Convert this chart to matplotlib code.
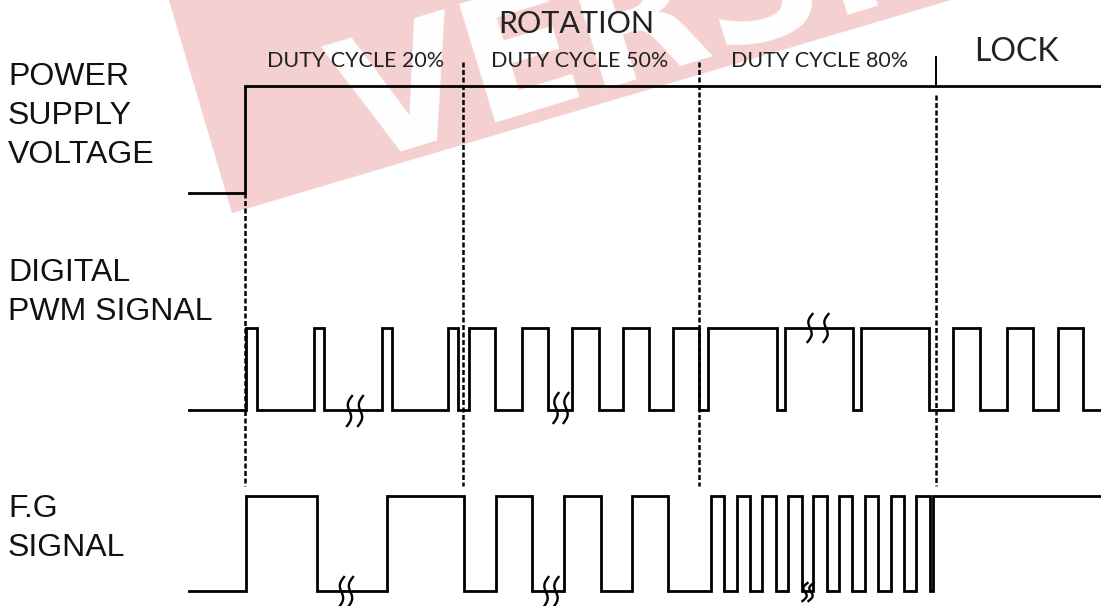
import numpy as np
import matplotlib as mpl
mpl.use('Agg')
import matplotlib.pyplot as plt
from matplotlib.patches import Polygon

# time axis is in drawing units (left to right), levels are row baselines
x_start = 189
x_end = 1101

# power supply: low, then steps up and stays on
power_edges = [245]
power_rows = (193, 86)      # (low, high)

# digital PWM signal, toggle times starting from low
pwm_edges = [246, 257, 314, 324, 382, 392, 448, 458, 469, 495, 522, 548,
             572, 599, 623, 649, 673, 699, 708, 777, 785, 853, 861, 929,
             953, 980, 1007, 1033, 1058, 1083]
pwm_rows = (410, 328)

# F.G signal, toggle times starting from low
fg_edges = [246, 317, 387, 464, 496, 532, 564, 601, 632, 668, 711, 724,
            737, 750, 762, 776, 788, 802, 813, 827, 839, 852, 865, 878,
            891, 904, 916, 930, 933]
fg_rows = (591, 496)

# section borders (dashed) and where each one starts
borders = [245, 463, 699, 936]
border_top = [193, 62, 62, 95]
border_bottom = 486

# "time break" squiggles: centre x, centre y, height, gap between the pair
squig_x = [355, 561, 818, 346, 551, 808]
squig_y = [411, 408, 328, 592, 592, 592]
squig_h = [30, 30, 28, 30, 30, 18]
squig_gap = [11, 10, 16, 9, 10, 6]

row_labels = [('POWER', 77), ('SUPPLY', 116), ('VOLTAGE', 155),
              ('DIGITAL', 273), ('PWM SIGNAL', 312),
              ('F.G', 509), ('SIGNAL', 548)]
section_labels = ['DUTY CYCLE 20%', 'DUTY CYCLE 50%', 'DUTY CYCLE 80%']
section_x = [356, 580, 820]


def step_wave(edges, rows, start_high=False):
    xs = [x_start]
    lvl = 1 if start_high else 0
    ys = [rows[lvl]]
    for e in edges:
        xs += [e, e]
        ys += [rows[lvl], rows[1 - lvl]]
        lvl = 1 - lvl
    xs.append(x_end)
    ys.append(rows[lvl])
    return xs, ys


fig = plt.figure(figsize=(11.01, 6.06), dpi=100)
ax = fig.add_axes([0, 0, 1, 1])
ax.set_xlim(0, 1101)
ax.set_ylim(606, 0)
ax.axis('off')

# watermark band
th = np.deg2rad(16.5)
along = np.array([np.cos(th), -np.sin(th)])
up = np.array([-np.sin(th), -np.cos(th)])
p0 = np.array([232, 213])
band = [p0, p0 + 1200 * along, p0 + 1200 * along + 500 * up, p0 + 500 * up]
ax.add_patch(Polygon(band, closed=True, color='#f5d0d0', lw=0, zorder=0))
ax.text(356, 165, 'VERSION', rotation=17, rotation_mode='anchor',
        ha='left', va='baseline', fontsize=122, fontweight='bold',
        family='DejaVu Sans', color='white', zorder=1, clip_on=True)

lw = 2.0
for edges, rows in [(power_edges, power_rows), (pwm_edges, pwm_rows),
                    (fg_edges, fg_rows)]:
    xs, ys = step_wave(edges, rows)
    ax.plot(xs, ys, color='black', lw=lw, solid_joinstyle='miter', zorder=3)

for bx, bt in zip(borders, border_top):
    ax.plot([bx, bx], [bt, border_bottom], color='black', lw=1.8,
            linestyle=(0, (2, 1)), zorder=2)
# the solid tick before LOCK
ax.plot([borders[-1], borders[-1]], [57, power_rows[1]], color='black',
        lw=1.4, zorder=3)

s = np.linspace(0, 1, 60)
for cx, cy, h, g in zip(squig_x, squig_y, squig_h, squig_gap):
    for off in (-g / 2, g / 2):
        xx = cx + off - 2.8 * np.sin(2 * np.pi * s) + 5 * (0.5 - s)
        yy = cy - h / 2 + h * s
        ax.plot(xx, yy, color='black', lw=1.7, zorder=4)

for txt, y in row_labels:
    ax.text(8, y, txt, ha='left', va='center', fontsize=23,
            family='Liberation Sans', color='#111111')

ax.text(576, 24, 'ROTATION', ha='center', va='center', fontsize=22,
        family='Lato', color='#222222')
for txt, x in zip(section_labels, section_x):
    ax.text(x, 61, txt, ha='center', va='center', fontsize=15.5,
            family='Lato', color='#222222')
ax.text(1016, 52, 'LOCK', ha='center', va='center', fontsize=23,
        family='Lato', color='#222222')

fig.savefig('out.png', dpi=100, facecolor='white')
